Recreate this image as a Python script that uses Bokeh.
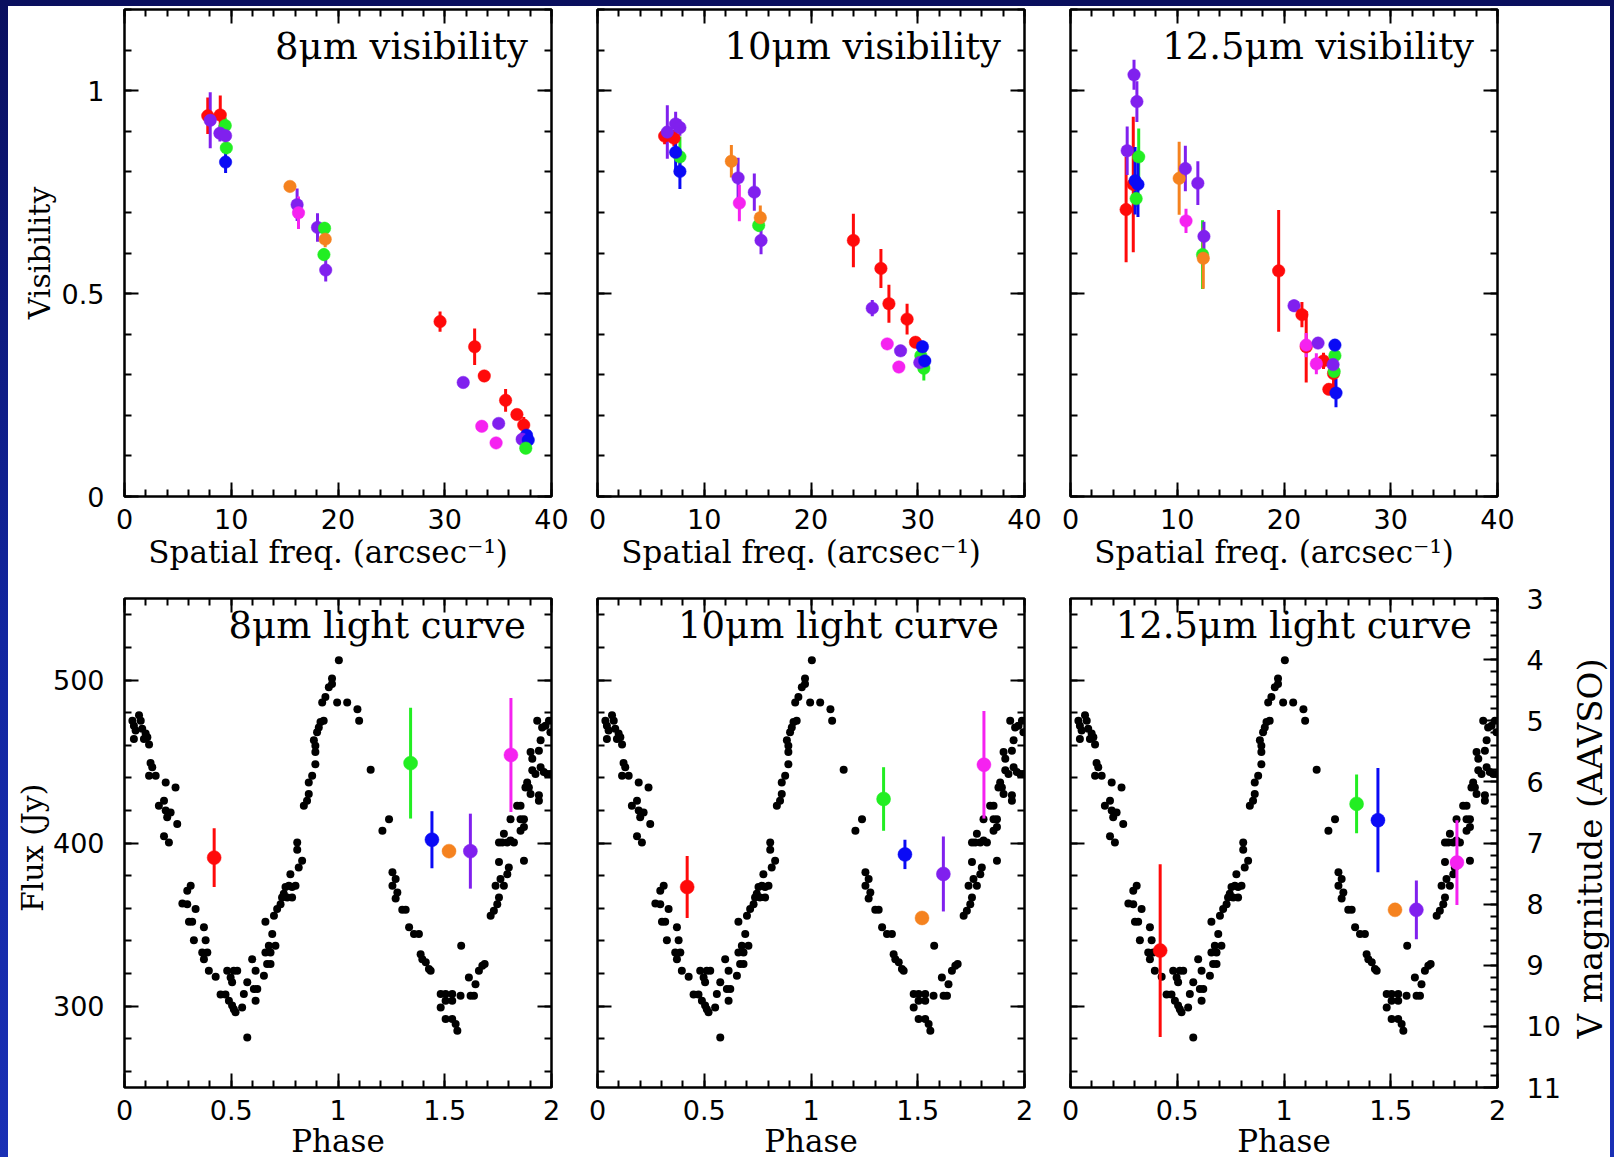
import numpy as np
from bokeh.plotting import figure
from bokeh.models import (LinearAxis, Range1d, SingleIntervalTicker, NumeralTickFormatter,
                          CustomJSTickFormatter, Label, ColumnDataSource)
from bokeh.layouts import column, row
from bokeh.embed import file_html
from bokeh.resources import INLINE

# ---------------- data ----------------
epochs = ["E1", "E2", "E3", "E4", "E5", "E6"]
epoch_colors = ["#ff0a0a", "#22ee22", "#0a0af5", "#f5821f", "#8020ee", "#f522f0"]
epoch_phase = [0.42, 1.34, 1.44, 1.52, 1.62, 1.81]

# 8 micron visibilities
vis8_set = ["E1", "E1", "E2", "E5", "E5", "E2", "E3", "E5", "E4", "E5", "E6", "E5", "E2", "E4", "E2", "E5",
            "E1", "E1", "E1", "E5", "E1", "E1", "E1", "E6", "E5", "E6", "E3", "E5", "E3", "E2"]
vis8_x = [7.8, 8.97, 9.44, 8.03, 8.94, 9.54, 9.47, 9.47, 15.5, 16.17, 16.3, 18.08, 18.74, 18.8, 18.68, 18.85,
          29.56, 32.8, 33.7, 31.73, 35.7, 36.76, 37.4, 33.47, 35.05, 34.81, 37.66, 37.25, 37.82, 37.59]
vis8_v = [0.938, 0.940, 0.914, 0.927, 0.895, 0.859, 0.824, 0.889, 0.764, 0.719, 0.699, 0.663, 0.661, 0.634, 0.596, 0.558,
          0.431, 0.369, 0.297, 0.281, 0.237, 0.202, 0.176, 0.173, 0.180, 0.132, 0.151, 0.141, 0.139, 0.119]
vis8_err = [0.045, 0.048, 0.02, 0.069, 0.02, 0.015, 0.027, 0.015, 0.01, 0.04, 0.04, 0.035, 0.015, 0.02, 0.015, 0.028,
            0.025, 0.045, 0.015, 0.01, 0.028, 0.012, 0.02, 0.01, 0.01, 0.01, 0.015, 0.01, 0.01, 0.01]

# 10 micron visibilities
vis10_set = ["E1", "E1", "E5", "E5", "E2", "E5", "E3", "E3", "E4", "E5", "E6", "E5", "E2", "E4", "E5",
             "E1", "E1", "E1", "E5", "E1", "E6", "E1", "E5", "E6", "E2", "E2", "E3", "E5", "E3"]
vis10_x = [6.29, 7.16, 6.54, 7.32, 7.72, 7.72, 7.32, 7.72, 12.54, 13.17, 13.29, 14.69, 15.1, 15.25, 15.32,
           23.97, 26.55, 27.3, 25.74, 29.0, 27.14, 29.79, 28.39, 28.23, 30.29, 30.57, 30.44, 30.19, 30.66]
vis10_v = [0.888, 0.883, 0.898, 0.918, 0.837, 0.909, 0.848, 0.801, 0.826, 0.785, 0.723, 0.750, 0.668, 0.687, 0.631,
           0.631, 0.562, 0.475, 0.464, 0.437, 0.376, 0.380, 0.359, 0.319, 0.347, 0.316, 0.369, 0.330, 0.334]
vis10_err = [0.02, 0.02, 0.066, 0.03, 0.05, 0.02, 0.044, 0.043, 0.04, 0.05, 0.045, 0.046, 0.015, 0.03, 0.034,
             0.066, 0.048, 0.047, 0.02, 0.038, 0.01, 0.01, 0.01, 0.01, 0.015, 0.03, 0.015, 0.01, 0.015]

# 12.5 micron visibilities
vis12_set = ["E1", "E1", "E5", "E5", "E5", "E2", "E2", "E3", "E3", "E4", "E5", "E6", "E5", "E2", "E4", "E5",
             "E1", "E5", "E1", "E1", "E6", "E5", "E1", "E6", "E1", "E1", "E2", "E2", "E5", "E3", "E3"]
vis12_x = [5.21, 5.88, 5.31, 5.95, 6.22, 6.39, 6.15, 6.05, 6.32, 10.18, 10.76, 10.82, 11.93, 12.37, 12.44, 12.5,
           19.5, 20.94, 21.68, 22.08, 22.08, 23.19, 23.7, 23.03, 24.64, 24.2, 24.77, 24.7, 24.6, 24.77, 24.87]
vis12_v = [0.707, 0.769, 0.852, 1.039, 0.973, 0.837, 0.734, 0.778, 0.769, 0.784, 0.808, 0.679, 0.772, 0.596, 0.587, 0.641,
           0.556, 0.470, 0.448, 0.369, 0.373, 0.378, 0.334, 0.327, 0.303, 0.264, 0.347, 0.308, 0.325, 0.373, 0.255]
vis12_err = [0.13, 0.167, 0.06, 0.037, 0.05, 0.07, 0.02, 0.083, 0.08, 0.09, 0.056, 0.03, 0.054, 0.085, 0.075, 0.036,
             0.15, 0.015, 0.031, 0.088, 0.03, 0.01, 0.02, 0.026, 0.04, 0.01, 0.015, 0.015, 0.01, 0.015, 0.035]

# mid-IR fluxes (Jy) per epoch
flux8 = [391, 449, 402, 395, 395, 454]
flux8_err = [18, 34, 17.5, 0, 23, 35]
flux10 = [373, 427, 393, 354, 381, 448]
flux10_err = [19, 19.5, 9, 0, 23, 33]
flux12 = [334, 424, 414, 359, 359, 388]
flux12_err = [53, 18, 32, 0, 18, 26]

# AAVSO V light curve (phase, V mag)
lc_phase = [0.037, 0.044, 0.068, 0.076, 0.052, 0.083, 0.099, 0.107, 0.044, 0.091, 0.115, 0.122, 0.130, 0.115, 0.146,
            0.193, 0.239, 0.185, 0.161, 0.193, 0.216, 0.200, 0.247, 0.185, 0.208, 0.310, 0.294, 0.271, 0.294, 0.333,
            0.302, 0.317, 0.372, 0.325, 0.380, 0.364, 0.388, 0.372, 0.395, 0.427, 0.481, 0.512, 0.528, 0.497, 0.504,
            0.450, 0.473, 0.489, 0.504, 0.512, 0.520, 0.551, 0.559, 0.575, 0.598, 0.614, 0.606, 0.622, 0.614, 0.575,
            0.653, 0.668, 0.684, 0.660, 0.676, 0.692, 0.707, 0.684, 0.660, 0.700, 0.715, 0.731, 0.738, 0.746, 0.754,
            0.770, 0.785, 0.801, 0.762, 0.785, 0.777, 0.816, 0.809, 0.809, 0.832, 0.840, 0.855, 0.863, 0.863, 0.879,
            0.894, 0.894, 0.887, 0.894, 0.902, 0.910, 0.918, 0.933, 0.926, 0.941, 0.957, 0.972, 0.972, 1.004, 0.996,
            1.043, 1.091, 1.099, 1.153, 1.208, 1.239, 1.255, 1.270, 1.255, 1.278, 1.270, 1.301, 1.317, 1.333, 1.356,
            1.379, 1.387, 1.395, 1.411, 1.426, 1.434, 1.481, 1.504, 1.535, 1.504, 1.535, 1.481, 1.504, 1.535, 1.551,
            1.559, 1.577, 1.574, 1.613, 1.621, 1.637, 1.644, 1.660, 1.676, 1.687, 1.715, 1.730, 1.746, 1.754, 1.738,
            1.761, 1.754, 1.777, 1.793, 1.800, 1.754, 1.777, 1.769, 1.793, 1.808, 1.824, 1.808, 1.839, 1.855, 1.855,
            1.871, 1.855, 1.871, 1.871, 1.878, 1.886, 1.894, 1.902, 1.941, 1.941, 1.910, 1.925, 1.902, 1.941, 1.910,
            1.949, 1.949, 1.964, 1.980, 1.995, 1.933, 1.956, 1.972, 1.988, 1.995]
lc_vmag = [5.00, 5.08, 4.91, 5.00, 5.16, 5.13, 5.21, 5.27, 5.30, 5.30, 5.39, 5.69, 5.76, 5.90, 5.90,
           6.01, 6.09, 6.31, 6.39, 6.47, 6.50, 6.58, 6.69, 6.89, 6.99, 7.70, 7.78, 7.99, 8.00, 8.08,
           8.29, 8.29, 8.38, 8.59, 8.59, 8.79, 8.79, 8.90, 9.09, 9.19, 9.09, 9.09, 9.09, 9.20, 9.28,
           9.48, 9.48, 9.58, 9.66, 9.72, 9.77, 9.69, 9.47, 9.28, 8.90, 9.09, 9.39, 9.39, 9.58, 10.18,
           9.17, 8.98, 8.98, 8.79, 8.68, 8.49, 8.68, 8.79, 8.29, 8.19, 8.08, 8.00, 7.89, 7.83, 7.72,
           7.70, 7.72, 7.70, 7.89, 7.89, 7.51, 7.40, 7.11, 6.99, 7.29, 6.39, 6.31, 6.20, 6.01, 5.90,
           5.71, 5.51, 5.32, 5.41, 5.19, 5.11, 5.02, 5.00, 4.70, 4.61, 4.45, 4.31, 4.40, 4.01, 4.70,
           4.70, 4.81, 5.00, 5.80, 6.80, 6.61, 7.48, 7.59, 7.70, 7.81, 7.91, 8.09, 8.09, 8.38, 8.49,
           8.49, 8.82, 8.90, 8.95, 9.06, 9.09, 9.47, 9.47, 9.47, 9.58, 9.58, 9.69, 9.88, 9.88, 9.96,
           10.07, 8.68, 9.50, 9.20, 9.50, 9.50, 9.31, 9.09, 9.01, 8.98, 8.19, 8.11, 8.00, 7.89, 7.70,
           7.59, 7.31, 7.70, 7.51, 7.40, 6.99, 6.85, 6.99, 6.99, 6.96, 6.99, 6.61, 6.39, 6.39, 6.61,
           6.61, 6.80, 6.74, 7.29, 6.09, 6.01, 6.09, 6.20, 6.22, 6.31, 5.81, 5.87, 5.51, 5.49, 5.62,
           5.32, 5.76, 5.84, 5.87, 5.87, 5.00, 5.11, 5.08, 5.00, 5.19]

vis_titles = ["8\u03bcm  visibility", "10\u03bcm  visibility", "12.5\u03bcm  visibility"]
lc_titles = ["8\u03bcm  light  curve", "10\u03bcm  light  curve", "12.5\u03bcm  light  curve"]
vmag_label = "V magnitude  (AAVSO)"

# ---------------- styling ----------------
SERIF = "DejaVu Serif"
SANS = "DejaVu Sans"
FW = 427
color_of = dict(zip(epochs, epoch_colors))


def style_axis(ax, interval, show_labels, standoff=0, fmt=None):
    ax.ticker = SingleIntervalTicker(interval=interval, num_minor_ticks=5)
    ax.major_tick_in = 14
    ax.major_tick_out = 0
    ax.minor_tick_in = 7
    ax.minor_tick_out = 0
    ax.major_tick_line_width = 2
    ax.minor_tick_line_width = 2
    ax.major_tick_line_color = "black"
    ax.minor_tick_line_color = "black"
    ax.axis_line_color = None
    if show_labels:
        if fmt is not None:
            ax.formatter = NumeralTickFormatter(format=fmt)
        ax.major_label_text_font = SANS
        ax.major_label_text_font_size = "27px"
        ax.major_label_text_color = "black"
        ax.major_label_standoff = standoff
    else:
        ax.formatter = CustomJSTickFormatter(code="return ''")
        ax.major_label_text_font_size = "1px"
        ax.major_label_standoff = 0


def style_label(ax, text, standoff, size="31px"):
    ax.axis_label = text
    ax.axis_label_text_font = SERIF
    ax.axis_label_text_font_size = size
    ax.axis_label_text_font_style = "normal"
    ax.axis_label_text_color = "black"
    ax.axis_label_standoff = standoff


def base_fig(xr, yr, left, right, top, bottom, fh, fw=FW):
    p = figure(frame_width=fw, frame_height=fh, x_range=Range1d(*xr), y_range=Range1d(*yr),
               min_border_left=left, min_border_right=right, min_border_top=top, min_border_bottom=bottom,
               toolbar_location=None, output_backend="svg", x_axis_location=None, y_axis_location=None,
               background_fill_color="white", border_fill_color="white",
               outline_line_color="black", outline_line_width=2.5)
    p.xgrid.visible = False
    p.ygrid.visible = False
    return p


def add_box_axes(p, xint, yint, xfmt, yfmt, show_y, xlabel, ylabel, ylab_standoff, xlab_standoff,
                 right_axis=True):
    b = LinearAxis()
    style_axis(b, xint, True, 12, xfmt)
    style_label(b, xlabel, xlab_standoff)
    p.add_layout(b, "below")
    a = LinearAxis()
    style_axis(a, xint, False)
    p.add_layout(a, "above")
    l = LinearAxis()
    style_axis(l, yint, show_y, 20, yfmt)
    if show_y:
        style_label(l, ylabel, ylab_standoff, "30px")
    p.add_layout(l, "left")
    if right_axis:
        r = LinearAxis()
        style_axis(r, yint, False)
        p.add_layout(r, "right")


# ---------------- visibility row ----------------
vis_data = [(vis8_set, vis8_x, vis8_v, vis8_err), (vis10_set, vis10_x, vis10_v, vis10_err),
            (vis12_set, vis12_x, vis12_v, vis12_err)]
borders = [(116, 23), (23, 23), (23, 112)]
top_figs = []
for i, (sets, xs, vs, es) in enumerate(vis_data):
    left, right = borders[i]
    p = base_fig((0, 40), (0, 1.2), left, right, 3, 79, 487)
    add_box_axes(p, 10, 0.5, "0", "0.[0]", i == 0, "Spatial  freq.  (arcsec\u207b\u00b9)", "Visibility", 2, 2)
    xs = np.array(xs); vs = np.array(vs); es = np.array(es)
    src = ColumnDataSource(dict(x=xs, v=vs, lo=vs - es, hi=vs + es, c=[color_of[s] for s in sets]))
    p.segment(x0="x", y0="lo", x1="x", y1="hi", source=src, line_color="c", line_width=3)
    p.scatter(x="x", y="v", source=src, size=12.5, fill_color="c", line_color="c", line_width=0.5)
    p.add_layout(Label(x=38.9, y=1.109, text=vis_titles[i], text_font=SERIF, text_font_size="37px",
                       text_font_style="normal", text_align="right", text_baseline="middle",
                       text_color="black"))
    top_figs.append(p)

# ---------------- light-curve row ----------------
flux_data = [(flux8, flux8_err), (flux10, flux10_err), (flux12, flux12_err)]
borders2 = [(116, 23), (23, 23), (23, 69)]
bot_figs = []
for i, (fl, fe) in enumerate(flux_data):
    left, right = borders2[i]
    p = base_fig((0, 2), (250, 550), left, right, 23, 70, 489)
    p.extra_y_ranges = {"vmag": Range1d(11, 3)}
    add_box_axes(p, 0.5, 100, "0.[0]", "0", i == 0, "Phase", "Flux  (Jy)", 0, 0, right_axis=(i < 2))
    if i == 2:
        r = LinearAxis(y_range_name="vmag")
        style_axis(r, 1, True, 29, "0")
        p.add_layout(r, "right")
    lc = ColumnDataSource(dict(x=lc_phase, y=lc_vmag))
    p.scatter(x="x", y="y", source=lc, y_range_name="vmag", size=8, fill_color="black", line_color=None)
    fl = np.array(fl, dtype=float); fe = np.array(fe, dtype=float)
    src = ColumnDataSource(dict(x=epoch_phase, f=fl, lo=fl - fe, hi=fl + fe, c=epoch_colors))
    p.segment(x0="x", y0="lo", x1="x", y1="hi", source=src, line_color="c", line_width=3)
    p.scatter(x="x", y="f", source=src, size=14, fill_color="c", line_color="c", line_width=0.5)
    p.add_layout(Label(x=1.99, y=533.4, text=lc_titles[i], text_font=SERIF, text_font_size="37px",
                       text_font_style="normal", text_align="right", text_baseline="middle",
                       text_color="black"))
    bot_figs.append(p)

# narrow strip carrying the V-magnitude axis title (reads bottom-to-top like a left axis label)
vlab = figure(frame_width=1, frame_height=489, x_range=Range1d(0, 1), y_range=Range1d(11, 3),
              min_border_left=42, min_border_right=0, min_border_top=23, min_border_bottom=70,
              toolbar_location=None, output_backend="svg", x_axis_location=None, y_axis_location=None,
              background_fill_color="white", border_fill_color="white", outline_line_color=None)
vlab.xgrid.visible = False
vlab.ygrid.visible = False
va = LinearAxis()
va.ticker = SingleIntervalTicker(interval=1, num_minor_ticks=0)
va.formatter = CustomJSTickFormatter(code="return ''")
va.major_label_text_font_size = "1px"
va.major_label_standoff = 0
va.major_tick_in = 0
va.major_tick_out = 0
va.minor_tick_in = 0
va.minor_tick_out = 0
va.axis_line_color = None
style_label(va, vmag_label, 0, "34px")
vlab.add_layout(va, "left")

grid = column(row(*top_figs, spacing=0), row(*bot_figs, vlab, spacing=0), spacing=0,
              styles={"background-color": "white"})
page = column(grid, styles={"background": "linear-gradient(180deg, #0a0f5e 0%, #1226a0 55%, #1a30b5 100%)",
                            "padding": "6px 5px 0px 8px"})

open("out.html", "w").write(file_html(page, INLINE))
